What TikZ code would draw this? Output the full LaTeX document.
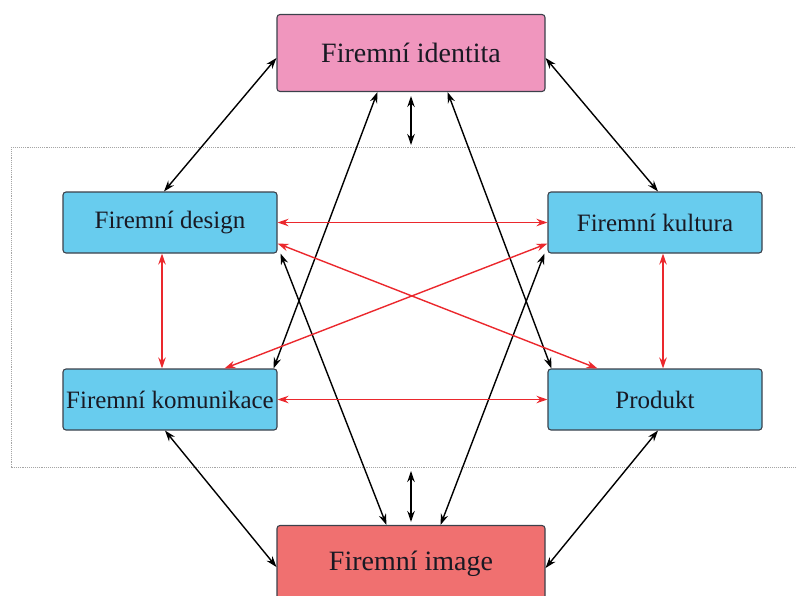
\documentclass[tikz,border=0pt]{standalone}
\usepackage{fontspec}
\setmainfont{Liberation Serif}
\usetikzlibrary{arrows.meta}
\definecolor{pinkfill}{RGB}{240,150,190}
\definecolor{bluefill}{RGB}{104,204,238}
\definecolor{redfill}{RGB}{240,112,112}
\definecolor{boxline}{RGB}{60,65,75}
\definecolor{txtdark}{RGB}{25,25,35}
\definecolor{arrred}{RGB}{235,40,45}
\definecolor{framegray}{RGB}{165,165,165}
\begin{document}
\begin{tikzpicture}[x=1pt,y=-1pt,
  box/.style={draw=boxline,line width=1.1pt,rounded corners=3pt,text=txtdark,inner sep=0pt},
  small/.style={box,fill=bluefill,minimum width=214pt,minimum height=61pt,font=\fontsize{25}{28}\selectfont},
  big/.style={box,minimum width=268pt,minimum height=77pt,font=\fontsize{28}{32}\selectfont},
  link/.style={{Stealth[length=11pt,width=7.5pt]}-{Stealth[length=11pt,width=7.5pt]},line width=1.4pt},
  redlink/.style={link,draw=arrred}]
\useasboundingbox (0,0) rectangle (796,595);
% frame
\draw[framegray,densely dotted,line width=0.9pt] (11,147) rectangle (805,467);
% nodes
\node [big,fill=pinkfill] (ident) at (411,53) {Firemní identita};
\node [big,fill=redfill] (image) at (411,564) {Firemní image};
\node [small] (design) at (170,222.5) {Firemní design};
\node [small] (kult) at (655,222.5) {Firemní kultura};
\node [small] (komun) at (170,399.5) {Firemní komunikace};
\node [small] (prod) at (655,399.5) {Produkt};
\coordinate (topgap) at (411,145);
\coordinate (botgap) at (411,471);
% black links
\draw[link] ([yshift=-5pt]ident.west) -- ([xshift=-6pt]design.north);
\draw[link] ([yshift=-5pt]ident.east) -- ([xshift=3pt]kult.north);
\draw[link] ([xshift=101pt]ident.south west) -- ([xshift=-4pt]komun.north east);
\draw[link] ([xshift=-98pt]ident.south east) -- ([xshift=4pt]prod.north west);
\draw[link] ([yshift=-4pt]ident.south) -- (topgap);
\draw[link] ([xshift=110pt]image.north west) -- ([xshift=3pt]design.south east);
\draw[link] ([xshift=-105pt]image.north east) -- ([xshift=-3pt]kult.south west);
\draw[link] ([yshift=3pt]image.north) -- (botgap);
\draw[link] ([xshift=-5pt]komun.south) -- ([yshift=-3pt]image.west);
\draw[link] ([xshift=3pt]prod.south) -- ([yshift=-4pt]image.east);
% red links
\draw[redlink] (design.east) -- (kult.west);
\draw[redlink] (komun.east) -- (prod.west);
\draw[redlink] ([xshift=-8pt]design.south) -- ([xshift=-8pt]komun.north);
\draw[redlink] ([xshift=8pt]kult.south) -- ([xshift=8pt]prod.north);
\draw[redlink] ([yshift=-21pt]design.east) -- ([xshift=50pt]prod.north west);
\draw[redlink] ([yshift=-21pt]kult.west) -- ([xshift=162pt]komun.north west);
\end{tikzpicture}
\end{document}
